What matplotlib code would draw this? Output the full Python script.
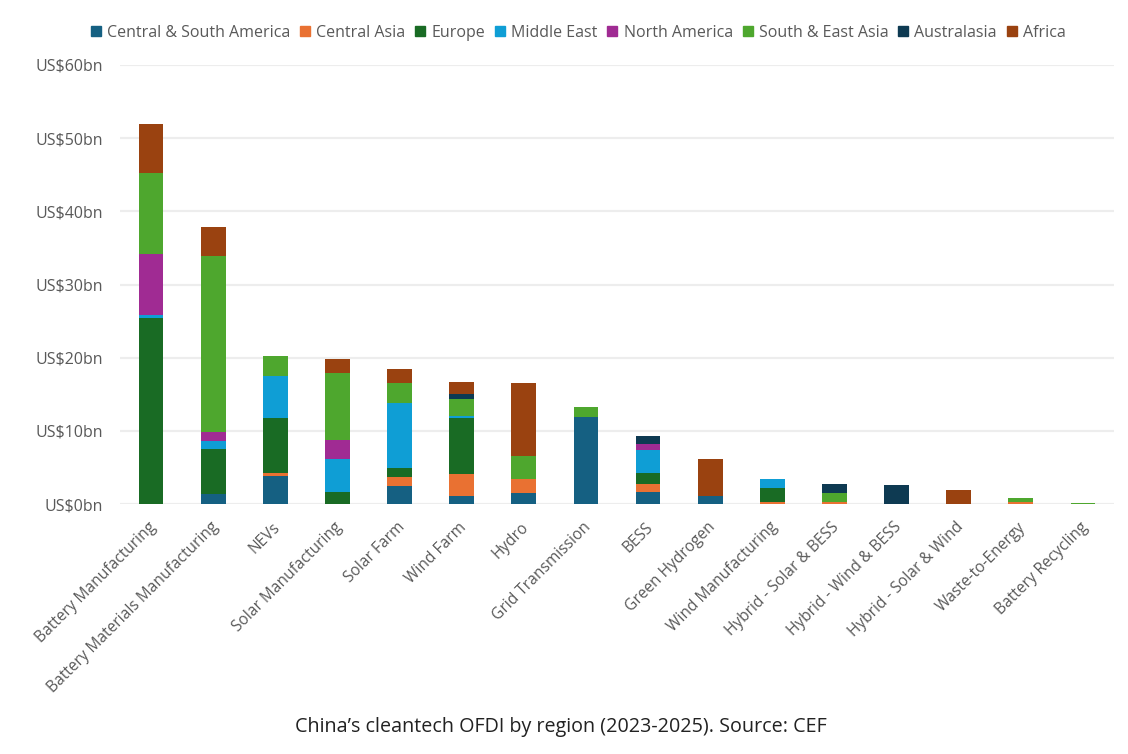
import matplotlib
matplotlib.use("Agg")
import matplotlib.pyplot as plt
import numpy as np
from matplotlib.lines import Line2D
from matplotlib.transforms import ScaledTranslation

plt.rcParams['font.family'] = ['Open Sans', 'DejaVu Sans']

categories = ["Battery Manufacturing", "Battery Materials Manufacturing", "NEVs", "Solar Manufacturing",
              "Solar Farm", "Wind Farm", "Hydro", "Grid Transmission", "BESS", "Green Hydrogen",
              "Wind Manufacturing", "Hybrid - Solar & BESS", "Hybrid - Wind & BESS", "Hybrid - Solar & Wind",
              "Waste-to-Energy", "Battery Recycling"]
regions = ["Central & South America", "Central Asia", "Europe", "Middle East", "North America",
           "South & East Asia", "Australasia", "Africa"]
colors = ["#156082", "#E97132", "#196B24", "#0F9ED5", "#A02B93", "#4EA72E", "#0E3A52", "#9A4210"]

central_south_america = [0, 1.37, 3.8, 0, 2.4, 1.09, 1.45, 11.85, 1.7, 1.09, 0, 0, 0, 0, 0, 0]
central_asia = [0, 0, 0.4, 0, 1.3, 3.0, 1.95, 0, 1.0, 0, 0.3, 0.3, 0, 0.05, 0.3, 0]
europe = [25.46, 6.13, 7.6, 1.7, 1.2, 7.7, 0, 0, 1.6, 0, 1.9, 0, 0, 0, 0, 0]
middle_east = [0.34, 1.05, 5.7, 4.4, 8.9, 0.27, 0, 0, 3.1, 0, 1.2, 0, 0, 0, 0, 0]
north_america = [8.4, 1.35, 0, 2.65, 0, 0, 0, 0, 0.8, 0, 0, 0, 0, 0, 0, 0]
south_east_asia = [11.1, 24.0, 2.7, 9.15, 2.7, 2.23, 3.2, 1.35, 0, 0, 0, 1.15, 0, 0, 0.48, 0.2]
australasia = [0, 0, 0, 0, 0, 0.7, 0, 0, 1.15, 0, 0, 1.35, 2.55, 0, 0, 0]
africa = [6.7, 4.0, 0, 1.9, 1.9, 1.7, 9.9, 0, 0, 5.06, 0, 0, 0, 1.85, 0, 0]
series = [central_south_america, central_asia, europe, middle_east, north_america,
          south_east_asia, australasia, africa]
yticks = [0, 10, 20, 30, 40, 50, 60]

fig = plt.figure(figsize=(11.28, 7.54), dpi=100)
W, H = 1128, 754
ax = fig.add_axes([120/W, 1-504/H, 994/W, (504-65)/H])
x = np.arange(len(categories))
bottom = np.zeros(len(categories))
for vals, c, r in zip(series, colors, regions):
    v = np.array(vals, float)
    keep = v > 0
    ax.bar(x[keep], v[keep], 0.4, bottom=bottom[keep], color=c, label=r, zorder=3, linewidth=0)
    bottom += v

ax.set_xlim(-0.5, len(categories)-0.5)
ax.set_ylim(0, 60)
ax.set_yticks(yticks)
ax.set_yticklabels([f"US${t}bn" for t in yticks], fontsize=11.5, color="#595959")
ax.set_xticks(x)
ax.set_xticklabels(categories, rotation=45, ha="right", rotation_mode="anchor",
                   fontsize=11.2, color="#595959")
ax.tick_params(axis="both", length=0)
ax.tick_params(axis="y", pad=12)
ax.tick_params(axis="x", pad=11)
shift = ScaledTranslation(-3/100, 0, fig.dpi_scale_trans)
for lab in ax.get_xticklabels():
    lab.set_transform(lab.get_transform() + shift)
ax.grid(axis="y", color="#EDEDED", linewidth=1.6, zorder=0)
ax.set_axisbelow(True)
for s in ax.spines.values():
    s.set_visible(False)

handles = [Line2D([], [], marker="s", linestyle="none", color=c, markersize=7.5) for c in colors]
fig.legend(handles, regions, loc="center", bbox_to_anchor=(578/W, 1-33/H), ncol=8, frameon=False,
           fontsize=11.5, labelcolor="#595959", handlelength=0.7, handletextpad=0.35, columnspacing=0.58)
fig.text(561/W, 1-727/H, "China’s cleantech OFDI by region (2023-2025). Source: CEF",
         ha="center", va="center", fontsize=14.2, color="#222222")
fig.savefig("out.png", dpi=100)
